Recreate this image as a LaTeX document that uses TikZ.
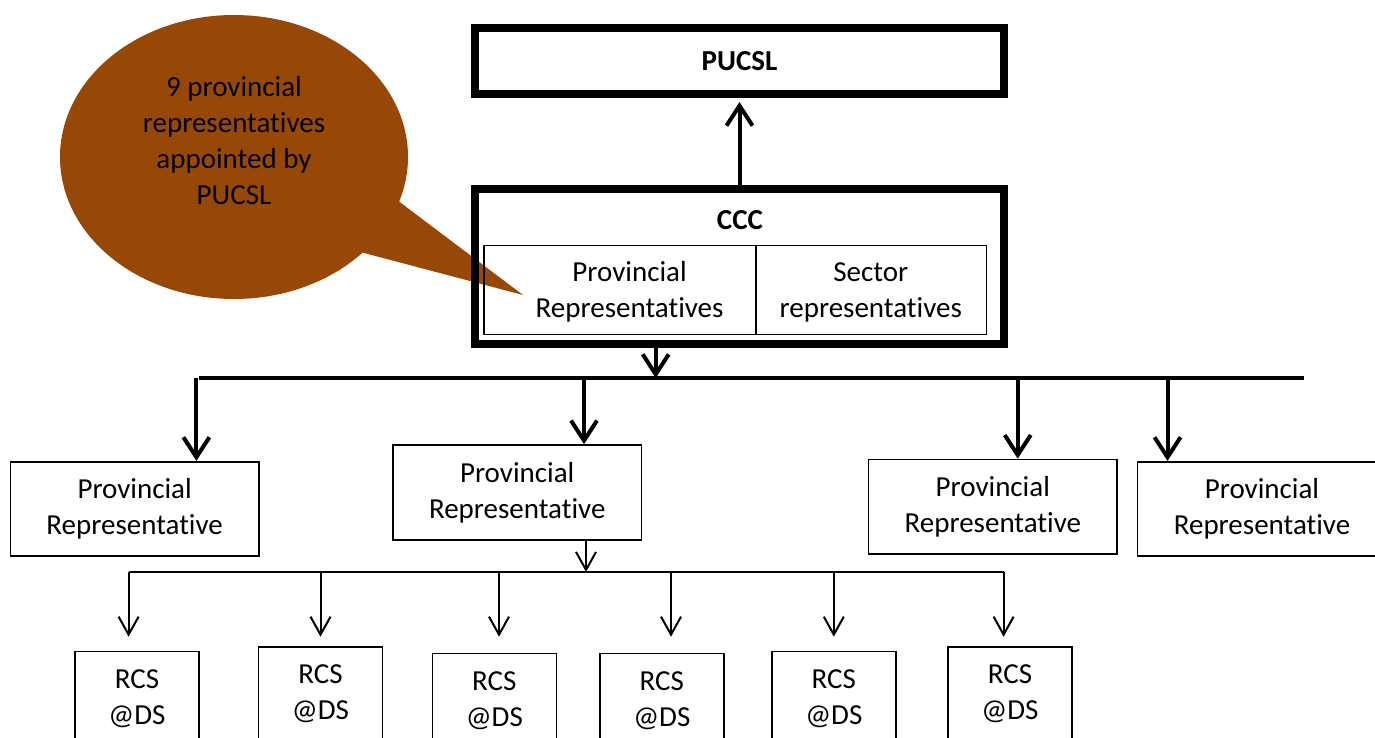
\documentclass[tikz,border=0pt]{standalone}
\usepackage{fontspec}
\setmainfont{Carlito}[RawFeature={-liga;-dlig;-clig;-calt;-hlig}]
\usetikzlibrary{arrows.meta,shapes.callouts}
\definecolor{notebrown}{RGB}{152,72,6}
\newcommand{\bigtext}{\fontsize{29}{36}\selectfont}
\newlength{\repwidth}
\setlength{\repwidth}{248.7pt}

\begin{document}
\begin{tikzpicture}[x=1pt, y=-1pt, font=\bigtext,
    heavybox/.style={draw, line width=8pt, minimum width=529pt, inner sep=0pt},
    cellbox/.style={draw, line width=1.3pt, minimum height=88.4pt, inner sep=0pt},
    repbox/.style={draw, line width=1.6pt, minimum width=\repwidth, minimum height=94.3pt, align=center, inner sep=0pt},
    rcsbox/.style={draw, line width=1.6pt, minimum width=124pt, minimum height=94pt, align=center, inner sep=0pt, anchor=north},
    thickline/.style={line width=4pt},
    thinline/.style={line width=2pt},
    thickarrow/.style={line width=4pt, -{Straight Barb[length=20pt,width=26pt]}},
    thinarrow/.style={line width=2pt, -{Straight Barb[length=18pt,width=20pt]}}]
    \useasboundingbox (0,0) rectangle (1375,737);
    \clip (0,0) rectangle (1375,737);

    \node[ellipse callout, fill=notebrown, minimum width=348pt, minimum height=284pt, inner sep=0pt,
        callout absolute pointer={(523,295)}, callout pointer arc=24] (note) at (234,157) {};
    \node[align=center] (notetext) at (234,140.5) {9 provincial\\representatives\\appointed by\\PUCSL};

    \node[heavybox, minimum height=66.5pt, font=\bigtext\bfseries] (pucsl) at (739.5,60.75) {PUCSL};
    \node[heavybox, minimum height=155.5pt] (ccc) at (739.5,266.25) {};
    \node[font=\bigtext\bfseries] (ccctitle) at (740,220) {CCC};
    \node[cellbox, minimum width=272pt] (provcell) at (620,290) {};
    \node[cellbox, minimum width=230.4pt] (sectcell) at (871.2,290) {};
    \node[align=center] (provtext) at (629.6,292) {Provincial\\Representatives};
    \node[align=center] (secttext) at (870.7,292) {Sector\\representatives};

    \draw[thickarrow, shorten >=4pt] (ccc.north) -- (pucsl.south);

    \coordinate (busL) at (199,378);
    \coordinate (busR) at (1304,378);
    \coordinate (busin) at (655.7,378);
    \draw[thickline] (busL) -- (busR);
    \draw[thickarrow] (busin |- ccc.south) -- (busin);

    \node[repbox] (prov1) at (134.65,508.85) {Provincial\\Representative};
    \node[repbox, minimum height=95pt] (prov2) at (517.2,492.5) {Provincial\\Representative};
    \node[repbox] (prov3) at (992.8,506.65) {Provincial\\Representative};
    \node[repbox] (prov4) at (1262,508.85) {Provincial\\Representative};

    \foreach \n/\dx in {1/196.4, 2/584, 3/1017.7, 4/1167.5}{
        \coordinate (drop\n) at (\dx,378);
        \draw[thickarrow] (drop\n) -- (drop\n |- prov\n.north);
    }

    \coordinate (subL) at (128.6,572);
    \coordinate (subR) at (1003.6,572);
    \coordinate (subin) at (586,572);
    \draw[thinline] (subL) -- (subR);
    \draw[thinarrow] (subin |- prov2.south) -- (subin);

    \foreach \n/\cx/\top/\dx in {1/137/650.7/128.6, 2/320.5/646/320.5, 3/494.3/652.7/499,
        4/661.8/652.7/671, 5/833.8/650.7/833.8, 6/1010/646/1003.6}{
        \node[rcsbox] (rcs\n) at (\cx,\top) {RCS\\@DS};
        \coordinate (rcsdrop\n) at (\dx,572);
        \coordinate (rcstip\n) at (\dx,636.7);
        \draw[thinarrow] (rcsdrop\n) -- (rcstip\n);
    }
\end{tikzpicture}
\end{document}
